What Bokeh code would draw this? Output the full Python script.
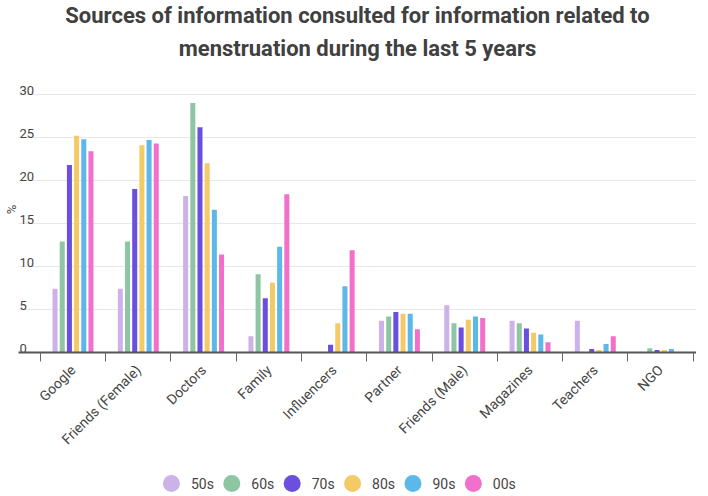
import math
from bokeh.plotting import figure
from bokeh.models import Range1d, FixedTicker, LinearAxis, Title
from bokeh.layouts import column
from bokeh.core.properties import value
from bokeh.embed import file_html
from bokeh.resources import INLINE

categories = ["Google", "Friends (Female)", "Doctors", "Family", "Influencers",
              "Partner", "Friends (Male)", "Magazines", "Teachers", "NGO"]
series = ["50s", "60s", "70s", "80s", "90s", "00s"]
colors = ["#cdb2ea", "#8ec6a4", "#6b4fde", "#f4ca66", "#5cb8e8", "#f26fcc"]

v50 = [7.4, 7.4, 18.2, 1.9, 0.0, 3.7, 5.5, 3.7, 3.7, 0.0]
v60 = [12.9, 12.9, 29.0, 9.1, 0.0, 4.2, 3.4, 3.4, 0.0, 0.5]
v70 = [21.8, 19.0, 26.2, 6.3, 0.9, 4.7, 2.9, 2.8, 0.4, 0.3]
v80 = [25.2, 24.1, 22.0, 8.1, 3.4, 4.5, 3.8, 2.3, 0.3, 0.3]
v90 = [24.8, 24.7, 16.6, 12.3, 7.7, 4.5, 4.2, 2.1, 1.0, 0.4]
v00 = [23.4, 24.3, 11.4, 18.4, 11.9, 2.7, 4.0, 1.2, 1.9, 0.0]
values = [v50, v60, v70, v80, v90, v00]

title_lines = ["Sources of information consulted for information related to",
               "menstruation during the last 5 years"]
yticks = [0, 5, 10, 15, 20, 25, 30]

TXT = "#444444"
FONT = "Roboto"

x_start, x_end = -0.335, 10.05
n = len(categories)
centers = [k + 0.5 for k in range(n)]
bounds = list(range(n + 1))

FH = 286
p = figure(frame_width=678, frame_height=FH,
           x_range=Range1d(x_start, x_end), y_range=Range1d(0, FH / 8.6),
           toolbar_location=None, output_backend="svg",
           y_axis_location=None,
           min_border_left=14, min_border_right=0, min_border_top=0, min_border_bottom=0,
           outline_line_color=None)

def style_title(t, standoff):
    t.align = "center"
    t.text_font = FONT
    t.text_font_size = "22px"
    t.text_font_style = "bold"
    t.text_color = "#404040"
    t.standoff = standoff

p.title.text = title_lines[0]
style_title(p.title, 0)
t2 = Title(text=title_lines[1])
style_title(t2, 12)
p.add_layout(t2, "above")

# grid
p.xgrid.visible = False
p.ygrid.ticker = FixedTicker(ticks=[t for t in yticks if t > 0])
p.ygrid.grid_line_color = "#e8e8e8"
p.ygrid.grid_line_width = 1

# x axis
xa = p.xaxis[0]
xa.ticker = FixedTicker(ticks=centers, minor_ticks=bounds)
xa.major_label_overrides = {c: name for c, name in zip(centers, categories)}
xa.major_tick_line_color = None
xa.major_tick_out = 0
xa.major_tick_in = 0
xa.minor_tick_line_color = "#666666"
xa.minor_tick_out = 9
xa.minor_tick_in = 0
xa.axis_line_color = "#555555"
xa.axis_line_width = 2
xa.major_label_orientation = math.pi / 4
xa.major_label_text_font = FONT
xa.major_label_text_font_size = "14px"
xa.major_label_text_color = TXT
xa.major_label_standoff = 6

# left axis only for the "%" title
ya = LinearAxis(axis_label="%", ticker=FixedTicker(ticks=[]),
                axis_line_color=None, major_tick_line_color=None,
                minor_tick_line_color=None, major_label_text_font_size="0px",
                major_tick_out=0, minor_tick_out=0,
                axis_label_standoff=0, major_label_standoff=0,
                axis_label_text_font=FONT, axis_label_text_font_size="13px",
                axis_label_text_font_style="normal", axis_label_text_color=TXT)
p.add_layout(ya, "left")

# bars
pitch = 0.11
bw = 0.077
for i, (s, vals, col) in enumerate(zip(series, values, colors)):
    xs = [c + (i - 2.5) * pitch for c in centers]
    p.vbar(x=xs, top=vals, bottom=0, width=bw, fill_color=col, line_color=None)

# y tick labels inside plot
p.text(x=[x_start] * len(yticks), y=yticks, text=[str(t) for t in yticks],
       text_font=value(FONT), text_font_size="13px", text_color=TXT,
       text_align="left", text_baseline="alphabetic", x_offset=1, y_offset=-4)

# legend figure
LW, LH = 692, 40
lg = figure(width=LW, height=LH, x_range=Range1d(0, LW), y_range=Range1d(0, LH),
            toolbar_location=None, output_backend="svg",
            x_axis_location=None, y_axis_location=None,
            min_border=0, outline_line_color=None)
lg.grid.visible = False
lx = [157 + 62 * i for i in range(len(series))]
ly = [12] * len(series)
lg.scatter(x=lx, y=ly, size=17, fill_color=colors, line_color=None)
lg.text(x=[x + 20 for x in lx], y=ly, text=series,
        text_font=value(FONT), text_font_size="14px", text_color=TXT,
        text_align="left", text_baseline="middle")

layout = column(p, lg, spacing=0)
open("out.html", "w").write(file_html(layout, INLINE))
